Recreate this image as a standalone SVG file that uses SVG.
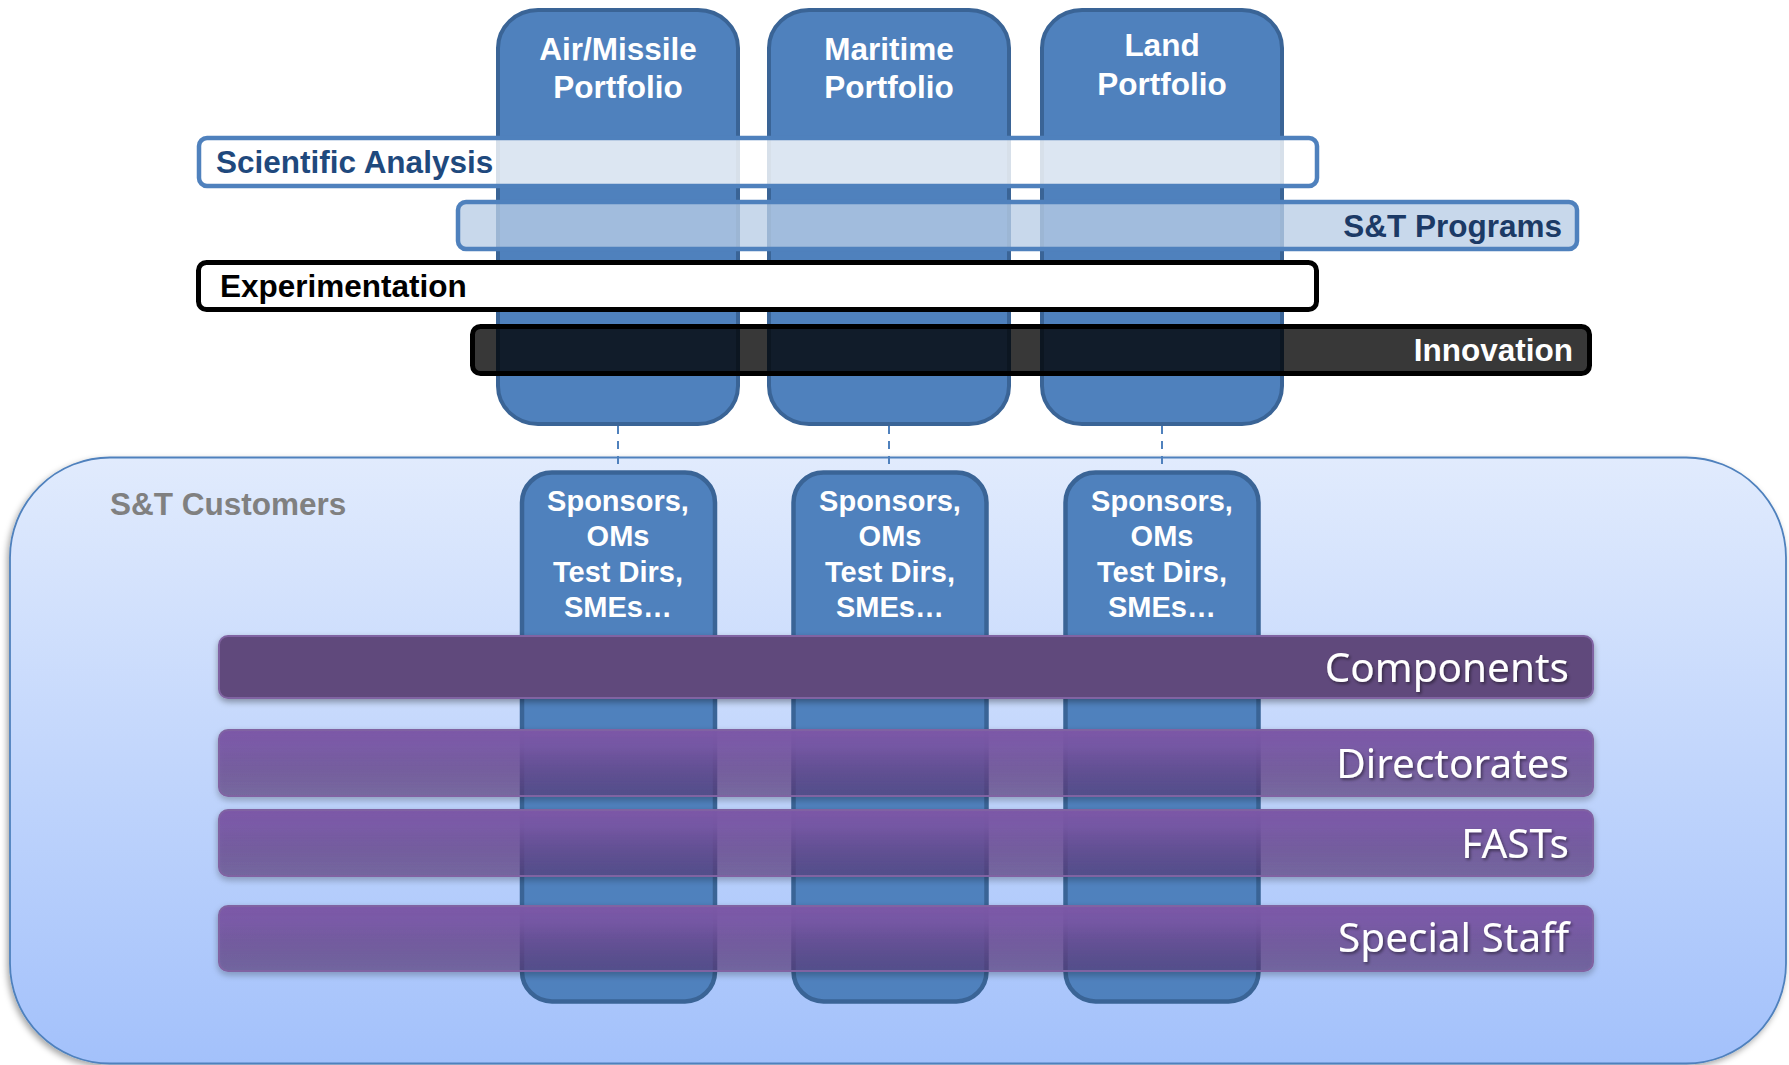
<svg xmlns="http://www.w3.org/2000/svg" width="1789" height="1065" viewBox="0 0 1789 1065">
<defs>
  <linearGradient id="custGrad" x1="0" y1="0" x2="0" y2="1">
    <stop offset="0" stop-color="#e1ebfd"/>
    <stop offset="1" stop-color="#a3c1fb"/>
  </linearGradient>
  <linearGradient id="barGrad" x1="0" y1="0" x2="0" y2="1">
    <stop offset="0" stop-color="#7c57a7" stop-opacity="1"/>
    <stop offset="0.25" stop-color="#7856a4" stop-opacity="0.93"/>
    <stop offset="1" stop-color="#5a3a7a" stop-opacity="0.58"/>
  </linearGradient>
  <filter id="boxShadow" x="-5%" y="-5%" width="110%" height="115%">
    <feDropShadow dx="-2" dy="3" stdDeviation="3" flood-color="#000" flood-opacity="0.35"/>
  </filter>
  <filter id="barShadow" x="-2%" y="-20%" width="104%" height="150%">
    <feDropShadow dx="0" dy="3" stdDeviation="3" flood-color="#000" flood-opacity="0.35"/>
  </filter>
  <filter id="txtShadow" x="-10%" y="-20%" width="120%" height="150%">
    <feDropShadow dx="1.5" dy="2" stdDeviation="1.5" flood-color="#000" flood-opacity="0.45"/>
  </filter>
</defs>
<style>
  .portfolio { fill: #4f81bd; stroke: #3a6496; stroke-width: 4; }
  .sponsor { fill: #4f81bd; stroke: #3a6496; stroke-width: 4.5; }
  .bold { font-family: "Liberation Sans", Arial, sans-serif; font-weight: bold; font-size: 31.5px; }
  .ptitle { fill: #ffffff; text-anchor: middle; }
  .stext { font-family: "Liberation Sans", Arial, sans-serif; font-weight: bold; font-size: 29px; fill: #ffffff; text-anchor: middle; }
  .barlabel { font-family: "Noto Sans", "Open Sans", sans-serif; font-size: 40.5px; fill: #ffffff; text-anchor: end; }
  .pbar { fill: url(#barGrad); stroke: #8064a2; stroke-width: 2; }
  .dash { stroke: #4f81bd; stroke-width: 2; stroke-dasharray: 8 7; fill: none; }
</style>

<rect width="1789" height="1065" fill="#ffffff"/>

<!-- S&T Customers container -->
<g id="customers">
  <rect x="10" y="457.5" width="1776" height="606" rx="100" ry="100" fill="url(#custGrad)" stroke="#4f81bd" stroke-width="1.8" filter="url(#boxShadow)"/>
  <text class="bold" x="110" y="515" fill="#808080">S&amp;T Customers</text>
</g>

<!-- Portfolio columns -->
<g id="portfolio-air">
  <rect class="portfolio" x="498" y="10" width="240" height="414" rx="40" ry="38"/>
  <text class="bold ptitle" x="618" y="60">Air/Missile</text>
  <text class="bold ptitle" x="618" y="98">Portfolio</text>
</g>
<g id="portfolio-maritime">
  <rect class="portfolio" x="769" y="10" width="240" height="414" rx="40" ry="38"/>
  <text class="bold ptitle" x="889" y="60">Maritime</text>
  <text class="bold ptitle" x="889" y="98">Portfolio</text>
</g>
<g id="portfolio-land">
  <rect class="portfolio" x="1042" y="10" width="240" height="414" rx="40" ry="38"/>
  <text class="bold ptitle" x="1162" y="56">Land</text>
  <text class="bold ptitle" x="1162" y="95">Portfolio</text>
</g>

<!-- Horizontal capability bands -->
<g id="band-scientific-analysis">
  <rect x="199" y="138" width="1118" height="48" rx="8" fill="#ffffff" fill-opacity="0.8" stroke="#4f81bd" stroke-width="4.5"/>
  <text class="bold" x="216" y="173" fill="#1f497d">Scientific Analysis</text>
</g>
<g id="band-st-programs">
  <rect x="458" y="202" width="1119" height="47" rx="8" fill="#b9cde5" fill-opacity="0.78" stroke="#4f81bd" stroke-width="4.5"/>
  <text class="bold" x="1562" y="237" fill="#1c3a66" text-anchor="end">S&amp;T Programs</text>
</g>
<g id="band-experimentation">
  <rect x="198.5" y="262.5" width="1118" height="47" rx="8" fill="#ffffff" stroke="#000000" stroke-width="5"/>
  <text class="bold" x="220" y="297" fill="#000000">Experimentation</text>
</g>
<g id="band-innovation">
  <rect x="472.5" y="326.5" width="1117" height="47" rx="8" fill="#000000" fill-opacity="0.78" stroke="#000000" stroke-width="5"/>
  <text class="bold" x="1573" y="361" fill="#ffffff" text-anchor="end">Innovation</text>
</g>

<!-- Connectors -->
<g id="connectors">
  <line class="dash" x1="618" y1="426" x2="618" y2="470"/>
  <line class="dash" x1="889" y1="426" x2="889" y2="470"/>
  <line class="dash" x1="1162" y1="426" x2="1162" y2="470"/>
</g>

<!-- Sponsor columns -->
<g id="sponsors-air">
  <rect class="sponsor" x="522" y="472.5" width="193" height="529" rx="30" ry="30"/>
  <text class="stext" x="618" y="511">Sponsors,</text>
  <text class="stext" x="618" y="546">OMs</text>
  <text class="stext" x="618" y="582">Test Dirs,</text>
  <text class="stext" x="618" y="617">SMEs…</text>
</g>
<g id="sponsors-maritime">
  <rect class="sponsor" x="793.5" y="472.5" width="193" height="529" rx="30" ry="30"/>
  <text class="stext" x="890" y="511">Sponsors,</text>
  <text class="stext" x="890" y="546">OMs</text>
  <text class="stext" x="890" y="582">Test Dirs,</text>
  <text class="stext" x="890" y="617">SMEs…</text>
</g>
<g id="sponsors-land">
  <rect class="sponsor" x="1065.5" y="472.5" width="193" height="529" rx="30" ry="30"/>
  <text class="stext" x="1162" y="511">Sponsors,</text>
  <text class="stext" x="1162" y="546">OMs</text>
  <text class="stext" x="1162" y="582">Test Dirs,</text>
  <text class="stext" x="1162" y="617">SMEs…</text>
</g>

<!-- Organisational bars -->
<g id="bar-components">
  <rect x="219" y="636" width="1374" height="62" rx="9" fill="#604a7b" stroke="#8064a2" stroke-width="2" filter="url(#barShadow)"/>
  <text class="barlabel" x="1569" y="682" filter="url(#txtShadow)">Components</text>
</g>
<g id="bar-directorates">
  <rect class="pbar" x="219" y="730" width="1374" height="66" rx="9" filter="url(#barShadow)"/>
  <text class="barlabel" x="1569" y="778" filter="url(#txtShadow)">Directorates</text>
</g>
<g id="bar-fasts">
  <rect class="pbar" x="219" y="810" width="1374" height="66" rx="9" filter="url(#barShadow)"/>
  <text class="barlabel" x="1569" y="858" filter="url(#txtShadow)">FASTs</text>
</g>
<g id="bar-special-staff">
  <rect class="pbar" x="219" y="906" width="1374" height="65" rx="9" filter="url(#barShadow)"/>
  <text class="barlabel" x="1569" y="952" filter="url(#txtShadow)">Special Staff</text>
</g>
</svg>
